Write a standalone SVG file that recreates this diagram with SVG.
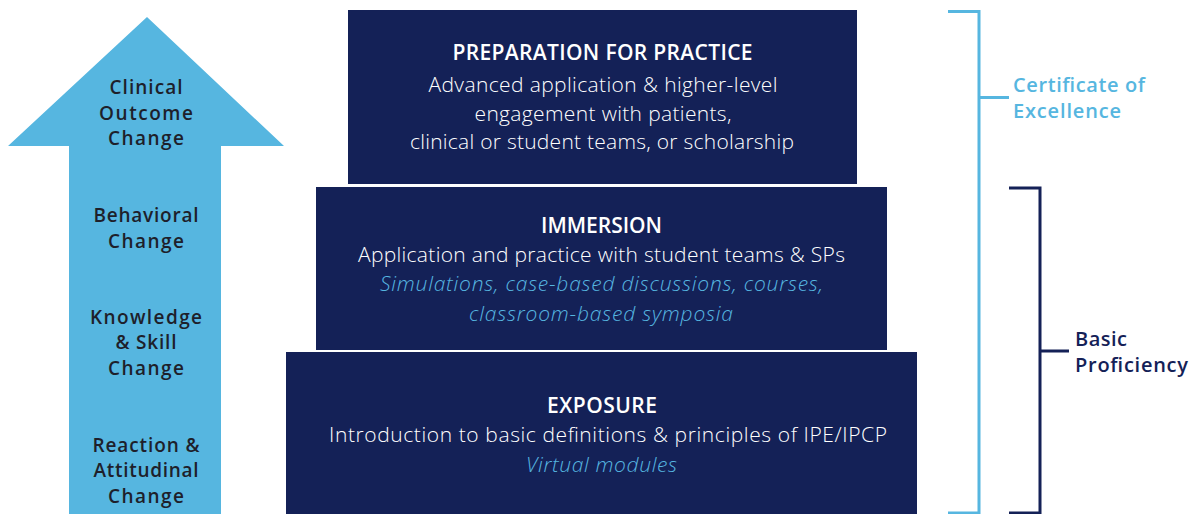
<svg xmlns="http://www.w3.org/2000/svg" width="1197" height="514" viewBox="0 0 1197 514">
<style>
.box{fill:#142157}
.arr{fill:#56b6e0}
.al{font-family:"Open Sans",Lato,sans-serif;font-weight:600;font-size:19px;fill:#1e1f2b;text-anchor:middle}
.h{font-family:"Open Sans",Lato,sans-serif;font-weight:600;font-size:21px;fill:#ffffff;text-anchor:middle}
.t{font-family:"Open Sans",Lato,sans-serif;font-weight:300;font-size:21px;fill:#ffffff;text-anchor:middle}
.i{font-family:"Open Sans",Lato,sans-serif;font-weight:300;font-style:italic;font-size:21px;fill:#56b6e0;text-anchor:middle}
.bl{fill:none;stroke:#56b6e0;stroke-width:3}
.bd{fill:none;stroke:#142157;stroke-width:3}
.lb{font-family:"Open Sans",Lato,sans-serif;font-weight:600;font-size:20px;fill:#56b6e0}
.db{font-family:"Open Sans",Lato,sans-serif;font-weight:600;font-size:20px;fill:#142157}
</style>
<rect width="1197" height="514" fill="#ffffff"/>
<g id="arrow">
<polygon class="arr" points="147,17 284,146 221,146 221,514 69,514 69,146 8,146"/>
<text class="al" x="146" y="94" textLength="73">Clinical</text>
<text class="al" x="146" y="119.5" textLength="94">Outcome</text>
<text class="al" x="146" y="145" textLength="76">Change</text>
<text class="al" x="146" y="221.5" textLength="105">Behavioral</text>
<text class="al" x="146" y="247.5" textLength="76">Change</text>
<text class="al" x="146" y="323.5" textLength="112">Knowledge</text>
<text class="al" x="146" y="349" textLength="61">&amp; Skill</text>
<text class="al" x="146" y="375" textLength="76">Change</text>
<text class="al" x="146" y="451.5" textLength="107">Reaction &amp;</text>
<text class="al" x="146" y="477" textLength="105">Attitudinal</text>
<text class="al" x="146" y="502.5" textLength="76">Change</text>
</g>
<g id="preparation">
<rect class="box" x="348" y="10" width="509" height="174"/>
<text class="h" x="602.5" y="60" textLength="300">PREPARATION FOR PRACTICE</text>
<text class="t" x="603" y="91.5" textLength="349">Advanced application &amp; higher-level</text>
<text class="t" x="603" y="120.5" textLength="257">engagement with patients,</text>
<text class="t" x="602" y="149" textLength="384">clinical or student teams, or scholarship</text>
</g>
<g id="immersion">
<rect class="box" x="316" y="187" width="571" height="163"/>
<text class="h" x="601.5" y="233" textLength="121">IMMERSION</text>
<text class="t" x="601.5" y="262" textLength="487">Application and practice with student teams &amp; SPs</text>
<text class="i" x="601.5" y="291" textLength="443">Simulations, case-based discussions, courses,</text>
<text class="i" x="601" y="321" textLength="264">classroom-based symposia</text>
</g>
<g id="exposure">
<rect class="box" x="286" y="352" width="631" height="162"/>
<text class="h" x="602" y="413" textLength="110">EXPOSURE</text>
<text class="t" x="608" y="442" textLength="558">Introduction to basic definitions &amp; principles of IPE/IPCP</text>
<text class="i" x="601.5" y="472" textLength="151">Virtual modules</text>
</g>
<g id="connectors">
<path class="bl" d="M948,11.5 H979 V513 H948 M979,97.5 H1009"/>
<path class="bd" d="M1009,188 H1040 V513 H1009 M1040,351 H1069"/>
</g>
<g id="certificate">
<text class="lb" x="1013" y="92" textLength="132">Certificate of</text>
<text class="lb" x="1013" y="117.5" textLength="108">Excellence</text>
</g>
<g id="basic">
<text class="db" x="1075" y="346" textLength="52">Basic</text>
<text class="db" x="1075" y="372" textLength="113">Proficiency</text>
</g>
</svg>
